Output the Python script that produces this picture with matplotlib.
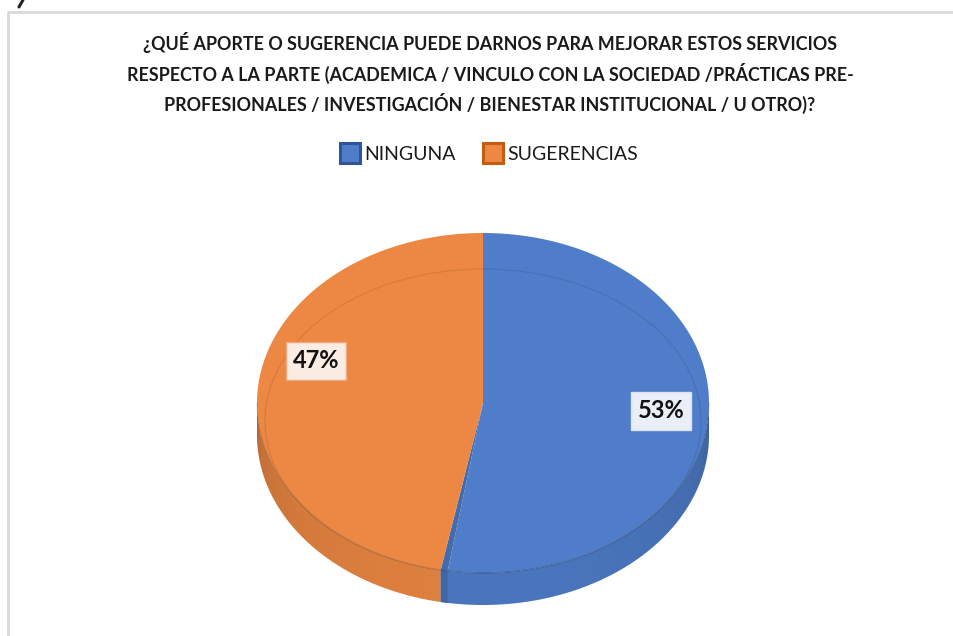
import numpy as np
import matplotlib
matplotlib.use("Agg")
import matplotlib.pyplot as plt
from matplotlib.patches import Polygon, Rectangle, Ellipse
from matplotlib import colors as mcolors

categories = ["NINGUNA", "SUGERENCIAS"]
values = [53, 47]
top_colors = ["#4F7DC9", "#EC8843"]
edge_colors = ["#2F5597", "#C55A11"]
title = ("¿QUÉ APORTE O SUGERENCIA PUEDE DARNOS PARA MEJORAR ESTOS SERVICIOS\n"
         "RESPECTO A LA PARTE (ACADEMICA / VINCULO CON LA SOCIEDAD /PRÁCTICAS PRE-\n"
         "PROFESIONALES / INVESTIGACIÓN / BIENESTAR INSTITUCIONAL / U OTRO)?")

# pie geometry in pixel space
cx, cy, rx, ry, depth = 483, 403, 226, 170, 32
label_pos = [(661, 411), (316, 361)]
label_fc = ["#E9EEF7", "#FBECE4"]
label_ec = ["#DCE3F0", "#F0A878"]

plt.rcParams['font.family'] = ['Lato', 'DejaVu Sans']

fig = plt.figure(figsize=(9.54, 6.36), dpi=100)
ax = fig.add_axes([0, 0, 1, 1])
ax.set_xlim(0, 954)
ax.set_ylim(636, 0)
ax.axis('off')


def pt(theta, dz=0.0):
    t = np.radians(theta)
    return cx + rx * np.cos(t), cy - ry * np.sin(t) + dz


def shade(c, f):
    r, g, b = mcolors.to_rgb(c)
    return (r * f, g * f, b * f)


# frame
ax.plot([8, 8, 954], [636, 12, 12], color="#D9D9D9", lw=2, solid_capstyle='butt')
ax.plot([23, 19], [0, 7], color="#222222", lw=2.2, solid_capstyle='round')

# angles of slices (start at top, clockwise)
total = sum(values)
cum = np.concatenate([[0], np.cumsum(values)]) / total * 360
angles = [(90 - cum[i + 1], 90 - cum[i]) for i in range(len(values))]  # (low, high)

# side walls (front half) with horizontal shading gradient
xx = np.linspace(cx - rx, cx + rx, 400)
for i, (lo, hi) in enumerate(angles):
    a0, a1 = lo % 360, hi % 360
    if a1 <= a0:
        a1 += 360
    s0, s1 = max(a0, 180), min(a1, 360)
    if s1 <= s0:
        continue
    th = np.linspace(s0, s1, 200)
    xs, ys = pt(th)
    xb, yb = pt(th[::-1], depth)
    poly = Polygon(list(zip(xs, ys)) + list(zip(xb, yb)), closed=True,
                   fc='none', ec='none')
    ax.add_patch(poly)
    u = np.clip((xx - cx) / rx, -1, 1)
    f = 0.74 + 0.20 * np.sqrt(1 - u ** 2) ** 0.5
    rgb = np.array([shade(top_colors[i], fi) for fi in f])[None, :, :]
    im = ax.imshow(rgb, extent=(cx - rx, cx + rx, cy + ry + depth + 2, cy - 5),
                   aspect='auto', interpolation='bilinear', zorder=1)
    im.set_clip_path(poly)

# top faces
strip = 1.8
for i, (lo, hi) in enumerate(angles):
    start = lo + strip if i == 0 else lo
    th = np.linspace(start, hi, 200)
    xs, ys = pt(th)
    verts = [(cx, cy)] + list(zip(xs, ys))
    ax.add_patch(Polygon(verts, closed=True, fc=top_colors[i], ec='none', zorder=2))
    if i == 0:
        # visible cut face of the first slice
        th2 = np.linspace(lo, lo + strip, 10)
        xs2, ys2 = pt(th2)
        ax.add_patch(Polygon([(cx, cy)] + list(zip(xs2, ys2)), closed=True,
                             fc=shade(top_colors[i], 0.86), ec='none', zorder=2))
        xb, yb = pt(th2, depth)
        ax.add_patch(Polygon(list(zip(xs2, ys2)) + list(zip(xb[::-1], yb[::-1])), closed=True,
                             fc=shade(top_colors[i], 0.82), ec='none', zorder=2))

# bevel line and front edge line
ax.add_patch(Ellipse((cx, cy + 18), 2 * rx - 16, 2 * ry - 36, fill=False,
                     ec="#000000", alpha=0.10, lw=0.8, zorder=3))
thf = np.linspace(180, 360, 200)
xf, yf = pt(thf)
ax.plot(xf, yf, color="#000000", alpha=0.15, lw=0.8, zorder=3)

# data labels
for i, v in enumerate(values):
    x, y = label_pos[i]
    ax.text(x, y, f"{v}%", fontsize=17, fontweight='bold', ha='center', va='center',
            color="#111111", zorder=5,
            bbox=dict(boxstyle="square,pad=0.3", fc=label_fc[i], ec=label_ec[i], lw=1))

# title
ax.text(490, 73, title, ha='center', va='center', fontsize=12.85, fontweight='bold',
        color="#1A1A1A", linespacing=1.5)

# legend
leg_x = [340, 483]
for i, c in enumerate(categories):
    ax.add_patch(Rectangle((leg_x[i], 143), 20, 20, fc=top_colors[i], ec=edge_colors[i], lw=2.2))
    ax.text(leg_x[i] + 24, 154, c, ha='left', va='center', fontsize=14, color="#1A1A1A")

fig.savefig("out.png", dpi=100)
